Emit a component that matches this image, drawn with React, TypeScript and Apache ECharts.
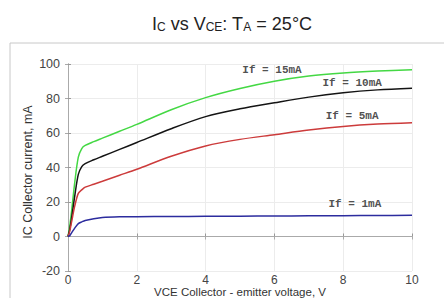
import React, { useEffect, useRef } from "react";
import * as echarts from "echarts";

const voltages = [0, 0.05, 0.1, 0.2, 0.3, 0.4, 0.5, 0.75, 1, 1.5, 2, 3, 4, 5, 6, 7, 8, 9, 10];
const if15 = [0, 6, 14, 32, 46, 51, 52.8, 55, 57, 61, 65, 73.5, 80.5, 85.8, 90, 93, 94.8, 95.9, 96.6];
const if10 = [0, 4, 10, 24, 36, 40.5, 42.3, 44.5, 46.5, 50.5, 54.5, 62.5, 69.5, 74, 77.5, 80.8, 83.3, 85, 86];
const if5 = [0, 3, 8, 18, 25, 27, 28.6, 30.3, 32, 35.5, 39, 46.5, 52.5, 56.3, 59, 61.7, 63.8, 65.2, 66];
const if1 = [0, 0.5, 2, 5, 7.5, 8.5, 9.3, 10.3, 11, 11.4, 11.5, 11.6, 11.7, 11.8, 11.9, 12, 12.1, 12.2, 12.3];

const seriesNames = ["If = 15mA", "If = 10mA", "If = 5mA", "If = 1mA"];
const seriesColors = ["#44d844", "#141414", "#cc3b3b", "#2c2c9e"];
const seriesData = [if15, if10, if5, if1];
// label anchor [V, I]
const labelPos = [[5.93, 96.8], [8.26, 88.7], [8.26, 70.1], [8.34, 19.1]];

const xAxisName = "VCE Collector - emitter voltage, V";
const yAxisName = "IC Collector current, mA";

export default function App() {
  const ref = useRef<HTMLDivElement>(null);
  useEffect(() => {
    const chart = echarts.init(ref.current!, null, { renderer: "svg" });
    const font = "Liberation Sans, Arial, sans-serif";
    const axisLabelStyle = { color: "#444", fontSize: 12.5, fontFamily: font };
    chart.setOption({
      animation: false,
      title: {
        text: "{a|I}{b|C}{a| vs V}{b|CE}{a|: T}{b|A}{a| = 25°C}",
        left: 147,
        top: 10,
        textStyle: {
          fontWeight: "normal",
          rich: {
            a: { fontSize: 18, color: "#222", fontFamily: font, verticalAlign: "bottom" },
            b: { fontSize: 12, color: "#222", fontFamily: font, verticalAlign: "bottom" },
          },
        },
      },
      graphic: [
        {
          type: "rect",
          shape: { x: 10, y: 43, width: 500, height: 300 },
          style: { fill: "none", stroke: "#c8c8c8", lineWidth: 1 },
          z: -1,
        },
        {
          type: "text",
          x: 240,
          y: 298,
          style: {
            text: xAxisName,
            align: "center",
            verticalAlign: "bottom",
            fill: "#333",
            fontSize: 11.5,
            lineHeight: 12,
            fontFamily: font,
          },
        },
        {
          type: "text",
          x: 28,
          y: 172,
          rotation: Math.PI / 2,
          style: {
            text: yAxisName,
            align: "center",
            verticalAlign: "middle",
            fill: "#333",
            fontSize: 12.5,
            fontFamily: font,
          },
        },
      ],
      grid: { left: 68, right: 32, top: 64, bottom: 27, outerBoundsMode: "none", containLabel: false },
      xAxis: [
        {
          type: "value",
          min: 0,
          max: 10,
          interval: 2,
          axisLine: { show: true, lineStyle: { color: "#999" } },
          axisTick: { show: true, inside: true, length: 3, lineStyle: { color: "#999" } },
          axisLabel: { ...axisLabelStyle, fontSize: 12, lineHeight: 12, margin: 3 },
          splitLine: { show: true, lineStyle: { color: "#ececec" } },
        },
        {
          type: "value",
          position: "top",
          min: 0,
          max: 10,
          interval: 2,
          axisLine: { show: true, lineStyle: { color: "#aaa" } },
          axisTick: { show: true, inside: true, length: 3, lineStyle: { color: "#aaa" } },
          axisLabel: { show: false },
          splitLine: { show: false },
        },
      ],
      yAxis: [
        {
          type: "value",
          min: -20,
          max: 100,
          interval: 20,
          axisLine: { show: true, lineStyle: { color: "#999" } },
          axisTick: { show: true, inside: true, length: 3, lineStyle: { color: "#999" } },
          axisLabel: { ...axisLabelStyle, margin: 8 },
          splitLine: { show: true, lineStyle: { color: "#ececec" } },
        },
        {
          type: "value",
          position: "right",
          min: -20,
          max: 100,
          interval: 20,
          axisLine: { show: true, lineStyle: { color: "#aaa" } },
          axisTick: { show: true, inside: true, length: 3, lineStyle: { color: "#aaa" } },
          axisLabel: { show: false },
          splitLine: { show: false },
        },
      ],
      series: [
        ...seriesData.map((d, i) => ({
          type: "line",
          name: seriesNames[i],
          data: voltages.map((v, j) => [v, d[j]]),
          smooth: 0.3,
          showSymbol: false,
          lineStyle: { color: seriesColors[i], width: 1.5 },
          z: 3,
        })),
        {
          type: "scatter",
          data: labelPos.map((p, i) => ({ value: p, name: seriesNames[i] })),
          symbolSize: 0,
          silent: true,
          label: {
            show: true,
            position: "inside",
            formatter: (p: any) => p.name,
            fontSize: 11,
            fontWeight: "bold",
            color: "#222",
            fontFamily: "Liberation Mono, DejaVu Sans Mono, monospace",
          },
        },
      ],
    });
    return () => chart.dispose();
  }, []);
  return <div ref={ref} style={{ width: 444, height: 298, position: "absolute", left: 0, top: 0 }} />;
}
